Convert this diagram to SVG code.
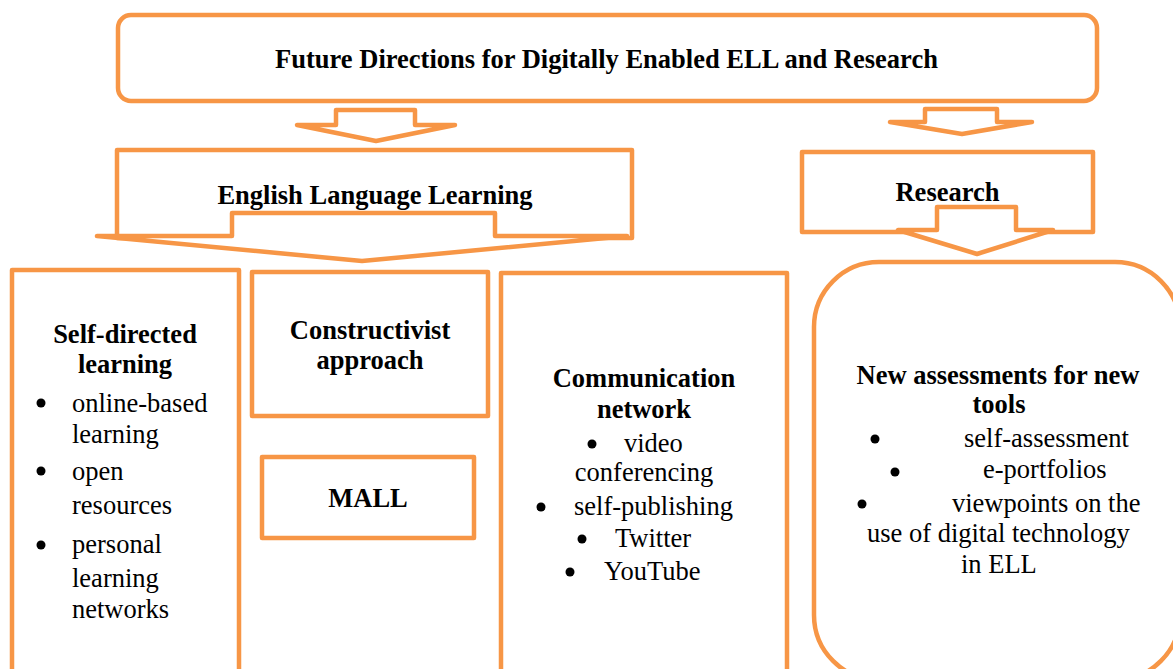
<svg xmlns="http://www.w3.org/2000/svg" width="1173" height="669" viewBox="0 0 1173 669">
<style>
.s{fill:#fff;stroke:#F79646;stroke-width:4.5;stroke-linejoin:round}
.h{font-family:"Liberation Serif","Times New Roman",serif;font-weight:bold;font-size:26.5px;fill:#000;text-anchor:middle}
.t{font-family:"Liberation Serif","Times New Roman",serif;font-size:26.5px;fill:#000}
.c{text-anchor:middle}
.b{fill:#000}
</style>
<rect width="1173" height="669" fill="#fff"/>
<g id="title">
<rect class="s" x="118" y="15" width="979" height="86" rx="13"/>
<text class="h" x="606.5" y="68">Future Directions for Digitally Enabled ELL and Research</text>
</g>
<g id="connectors">
<polygon class="s" points="297,125 336,125 336,110 415,110 415,125 455,125 376,141"/>
<polygon class="s" points="890,122 925,122 925,109 997,109 997,122 1032,122 962,134"/>
</g>
<g id="ell">
<rect class="s" x="117" y="150" width="515" height="88"/>
<polygon class="s" points="97,236 232,236 232,213 495,213 495,236 627,236 362,261"/>
<text class="h" x="375" y="204">English Language Learning</text>
</g>
<g id="research">
<rect class="s" x="802" y="152" width="291" height="80"/>
<text class="h" x="947.5" y="201">Research</text>
<polygon class="s" points="898,230 937,230 937,207 1016,207 1016,230 1053,230 977,254"/>
</g>
<g id="self-directed">
<rect class="s" x="12" y="270" width="227" height="420"/>
<text class="h" x="125" y="343">Self-directed</text>
<text class="h" x="125" y="373">learning</text>
<circle class="b" cx="41" cy="403" r="4.5"/>
<circle class="b" cx="41" cy="471" r="4.5"/>
<circle class="b" cx="41" cy="545" r="4.5"/>
<text class="t" x="72" y="412">online-based</text>
<text class="t" x="72" y="443">learning</text>
<text class="t" x="72" y="480">open</text>
<text class="t" x="72" y="514">resources</text>
<text class="t" x="72" y="553">personal</text>
<text class="t" x="72" y="587">learning</text>
<text class="t" x="72" y="618">networks</text>
</g>
<g id="constructivist">
<rect class="s" x="252" y="272" width="236" height="144"/>
<text class="h" x="370" y="339">Constructivist</text>
<text class="h" x="370" y="369">approach</text>
</g>
<g id="mall">
<rect class="s" x="262" y="457" width="212" height="81"/>
<text class="h" x="368" y="507">MALL</text>
</g>
<g id="communication">
<rect class="s" x="501" y="273" width="286" height="420"/>
<text class="h" x="644" y="387">Communication</text>
<text class="h" x="644" y="418">network</text>
<circle class="b" cx="592" cy="444" r="4.5"/>
<text class="t" x="624" y="452">video</text>
<text class="t c" x="644" y="481">conferencing</text>
<circle class="b" cx="541" cy="507" r="4.5"/>
<text class="t" x="574" y="515">self-publishing</text>
<circle class="b" cx="582" cy="539" r="4.5"/>
<text class="t" x="615" y="547">Twitter</text>
<circle class="b" cx="570" cy="572" r="4.5"/>
<text class="t" x="604" y="580">YouTube</text>
</g>
<g id="assessments">
<rect class="s" x="814" y="262" width="366" height="418" rx="65" ry="65"/>
<text class="h" x="998" y="384">New assessments for new</text>
<text class="h" x="999" y="413">tools</text>
<circle class="b" cx="875" cy="439" r="4.5"/>
<text class="t" x="964" y="447">self-assessment</text>
<circle class="b" cx="895" cy="472" r="4.5"/>
<text class="t" x="983" y="478">e-portfolios</text>
<circle class="b" cx="862" cy="504" r="4.5"/>
<text class="t" x="952" y="512">viewpoints on the</text>
<text class="t" x="867" y="542">use of digital technology</text>
<text class="t" x="961" y="573">in ELL</text>
</g>
</svg>
